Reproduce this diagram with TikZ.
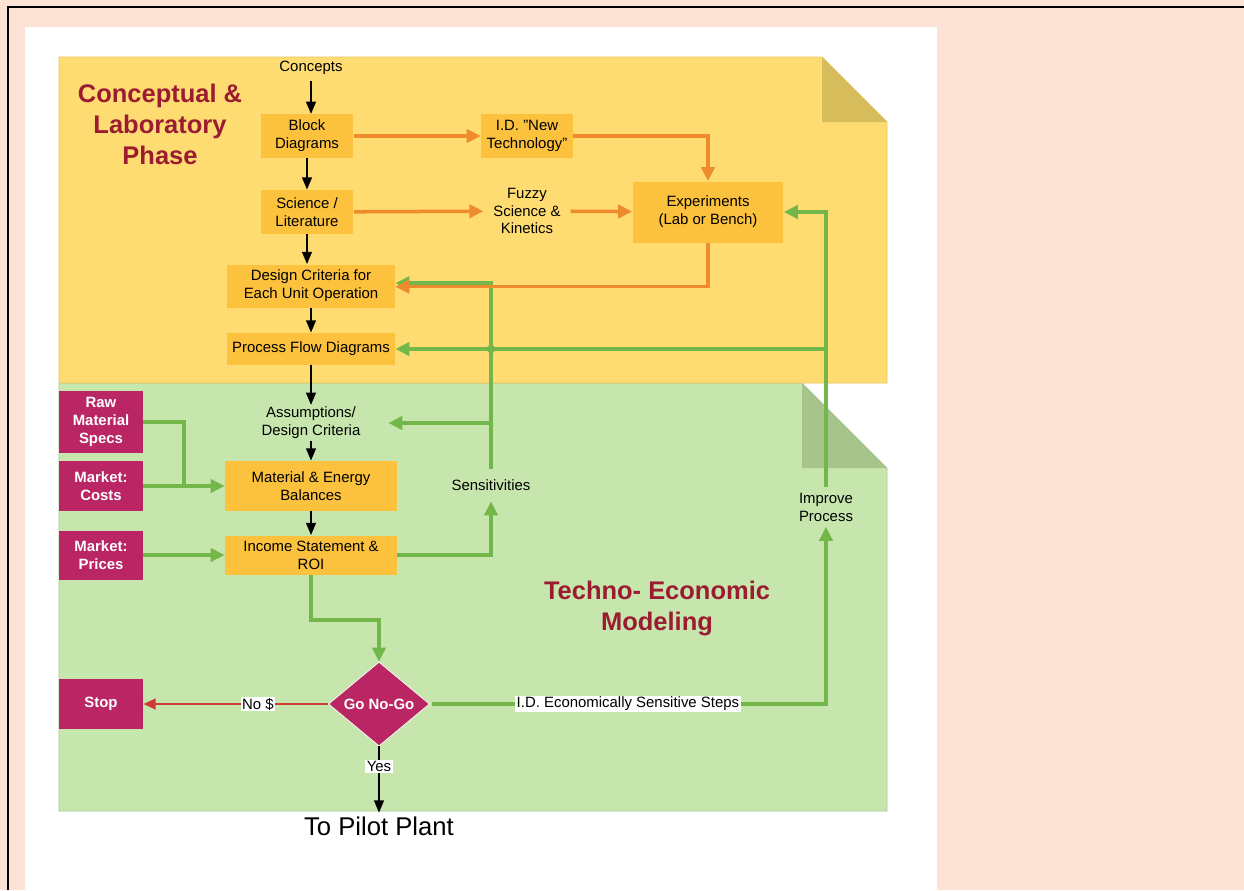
\documentclass[tikz,border=0pt]{standalone}
\usepackage{fontspec}
\setmainfont{Liberation Sans}
\usetikzlibrary{arrows.meta,shapes.geometric,calc}
\definecolor{pagebg}{HTML}{FCE3D6}
\definecolor{sheetyel}{HTML}{FEDC72}
\definecolor{edgeyel}{HTML}{E6C464}
\definecolor{foldyel}{HTML}{D8BD5C}
\definecolor{boxyel}{HTML}{FCC23D}
\definecolor{sheetgrn}{HTML}{C6E6AD}
\definecolor{edgegrn}{HTML}{A7CC90}
\definecolor{foldgrn}{HTML}{A6C48C}
\definecolor{boxmag}{HTML}{BA2663}
\definecolor{titlered}{HTML}{9B1B30}
\definecolor{lineorg}{HTML}{EE8B2C}
\definecolor{linegrn}{HTML}{73B64A}
\definecolor{linered}{HTML}{CC3A33}
\tikzset{
  txt/.style={align=center,font=\fontsize{8.5}{10.2}\selectfont},
  ybox/.style={txt,fill=boxyel,inner sep=1pt},
  mbox/.style={txt,fill=boxmag,text=white,inner sep=1pt,font=\fontsize{8.5}{10.2}\selectfont\bfseries},
  phase/.style={align=center,text=titlered,font=\fontsize{14.5}{17.6}\selectfont\bfseries},
  blk/.style={-{Triangle[length=7pt,width=5.5pt]},line width=1.2pt},
  org/.style={-{Triangle[length=8pt,width=7.5pt]},line width=2pt,lineorg},
  grn/.style={-{Triangle[length=8pt,width=7.5pt]},line width=2pt,linegrn},
  lbl/.style={txt,fill=white,text=black,inner sep=0.8pt}
}
\begin{document}
\begin{tikzpicture}[x=0.02cm,y=-0.02cm]
\useasboundingbox (0,0) rectangle (1244,890);
\fill[pagebg] (0,0) rectangle (1244,890);
\draw[line width=1.1pt] (8,890) -- (8,7) -- (1244,7);
\fill[white] (25,27) rectangle (937,890);
% sheets
\filldraw[fill=sheetgrn,draw=edgegrn] (59,383) -- (802,383) -- (887,468) -- (887,811) -- (59,811) -- cycle;
\fill[foldgrn] (802,383) -- (802,468) -- (887,468) -- cycle;
\filldraw[fill=sheetyel,draw=edgeyel] (59,57) -- (822,57) -- (887,122) -- (887,383) -- (59,383) -- cycle;
\fill[foldyel] (822,57) -- (822,122) -- (887,122) -- cycle;
\node[phase] (ttl1) at (160,124) {Conceptual \&\\Laboratory\\Phase};
\node[phase] (ttl2) at (657,608) {Techno- Economic\\Modeling};
% nodes
\node[txt] (con) at (311,68) {Concepts};
\node[ybox,minimum width=1.86cm,minimum height=0.88cm] (blkd) at (307,136) {Block\\Diagrams};
\node[ybox,minimum width=1.86cm,minimum height=0.88cm] (sci) at (307,212) {Science /\\Literature};
\node[ybox,minimum width=3.36cm,minimum height=0.86cm] (dcrit) at (311,286) {Design Criteria for\\Each Unit Operation};
\node[ybox,minimum width=3.36cm,minimum height=0.64cm] (pfd) at (311,349) {Process Flow Diagrams};
\node[ybox,minimum width=1.84cm,minimum height=0.88cm] (idnt) at (527,136) {I.D. \symbol{34}New\\Technology\symbol{34}};
\node[txt,inner xsep=5.5pt] (fuzz) at (527,211) {Fuzzy\\Science \&\\Kinetics};
\node[ybox,minimum width=3.02cm,minimum height=1.22cm] (exp) at (708,212) {Experiments\\(Lab or Bench)};
\node[txt,inner ysep=1pt,minimum width=3.08cm] (asm) at (311,423) {Assumptions/\\Design Criteria};
\node[ybox,minimum width=3.44cm,minimum height=1.0cm] (meb) at (311,486) {Material \& Energy\\Balances};
\node[ybox,minimum width=3.44cm,minimum height=0.78cm] (inc) at (311,555) {Income Statement \&\\ROI};
\node[mbox,minimum width=1.68cm,minimum height=1.24cm] (raw) at (101,422) {Raw\\Material\\Specs};
\node[mbox,minimum width=1.68cm,minimum height=1.0cm] (cost) at (101,486) {Market:\\Costs};
\node[mbox,minimum width=1.68cm,minimum height=0.98cm] (price) at (101,555) {Market:\\Prices};
\node[txt,inner sep=6pt] (sens) at (491,485) {Sensitivities};
\node[txt,inner ysep=3pt] (imp) at (826,507) {Improve\\Process};
\node[diamond,aspect=1.2,inner sep=0pt,minimum width=2.02cm,minimum height=1.68cm,fill=boxmag,draw=white,thin,text=white,font=\fontsize{8.5}{10.2}\selectfont\bfseries] (go) at (379,704) {Go No-Go};
\node[mbox,minimum width=1.68cm,minimum height=1.0cm] (stop) at (101,704) {Stop};
\node[font=\fontsize{14.6}{17}\selectfont,inner sep=2pt] (pilot) at (379,826) {To Pilot Plant};
% main chain
\draw[blk] (con.south -| 311,0) -- (311,114);
\draw[blk] (blkd) -- (sci);
\draw[blk] (sci.south) -- (sci.south |- dcrit.north);
\draw[blk] (dcrit) -- (pfd);
\draw[blk] (pfd) -- (asm);
\draw[blk] (asm) -- (meb);
\draw[blk] (meb) -- (inc);
% lab loop
\draw[org] (blkd) -- (idnt);
\draw[org] (idnt.east) -| (exp.north);
\draw[org] (sci) -- (fuzz);
\draw[org] (fuzz) -- (exp);
\draw[grn] (sens.north) |- ([yshift=1.6pt]dcrit.east);
\draw[org] (exp.south) |- ([yshift=-0.4pt]dcrit.east);
\draw[grn] (sens.north |- asm.east) -- (asm.east);
\draw[grn] (imp.north) |- (exp.east);
\draw[grn] (imp.north |- pfd.east) -- (pfd.east);
\fill[linegrn] (sens.north |- pfd.east) circle (2.4pt);
% economics
\draw[linegrn,line width=2pt] (raw.east) -| ($(cost.east)!.5!(meb.west)$);
\draw[grn] (cost) -- (meb);
\draw[grn] (price) -- (inc);
\draw[grn] (inc.east) -| (sens.south);
\draw[grn] (inc.south) -- (inc.south |- 0,620) -| (go.north);
\draw[grn,shorten <=1pt] (go.east) -| node[lbl,pos=0.25] {I.D. Economically Sensitive Steps} (imp.south);
\draw[-{Triangle[length=7pt,width=6pt]},line width=1.4pt,linered] (go.west) -- node[lbl,pos=0.38] {No \$} (stop.east);
\draw[blk] (go.south) -- node[lbl,pos=0.3] {Yes} (pilot.north);
\end{tikzpicture}
\end{document}
